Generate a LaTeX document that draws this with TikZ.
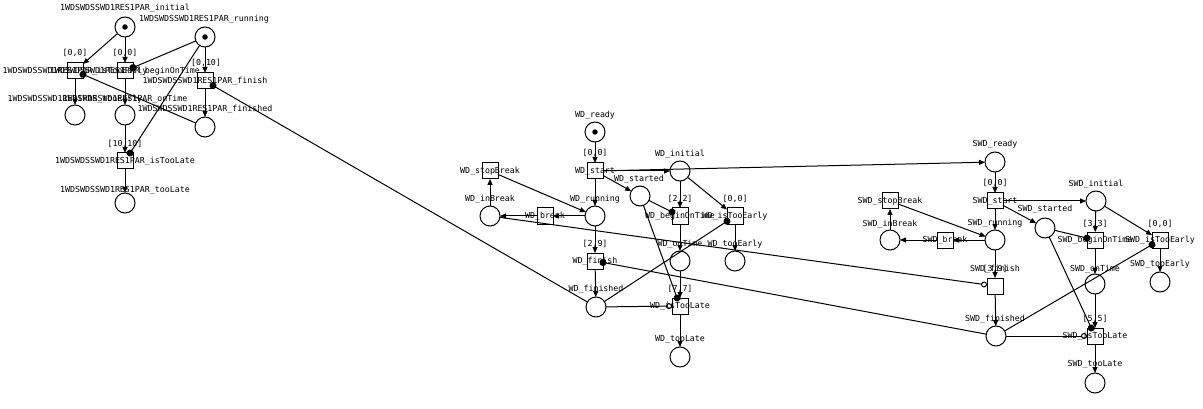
\documentclass[tikz,border=0pt]{standalone}
\usepackage{fontspec}
\setmonofont{DejaVu Sans Mono}
\usetikzlibrary{arrows.meta}
\begin{document}
\begin{tikzpicture}[x=1pt,y=-1pt,
  every node/.style={inner sep=0pt,outer sep=0pt},
  place/.style={circle,draw,minimum size=20pt,line width=1pt},
  trans/.style={rectangle,draw,minimum size=16pt,line width=1pt},
  lbl/.style={font=\ttfamily\fontsize{8.3}{9}\selectfont},
  tok/.style={circle,fill,minimum size=5.5pt},
  arc/.style={line width=1pt,-{Triangle[length=6pt,width=5pt]}},
  test/.style={line width=1pt,-{Circle[length=7pt]},shorten >=-3.5pt},
  inhib/.style={line width=1pt,-{Circle[open,length=6pt]}}]
\fill[white] (0,0) rectangle (1203,409);
\useasboundingbox (0,0) rectangle (1203,409);

% ---------- 1WDSWDSSWD1RES1PAR ----------
\node[place] (p1init) at (125,27) {};
\node[tok] (p1initT) at (p1init) {};
\node[place] (p1run) at (205,37) {};
\node[tok] (p1runT) at (p1run) {};
\node[trans] (t1early) at (75,71) {};
\node[trans] (t1begin) at (125,71) {};
\node[trans] (t1fin) at (205,81) {};
\node[place] (p1early) at (75,115) {};
\node[place] (p1ontime) at (125,115) {};
\node[place] (p1fin) at (205,127) {};
\node[trans] (t1late) at (125,161) {};
\node[place] (p1late) at (125,203) {};

% ---------- WD ----------
\node[place] (pwready) at (595,132) {};
\node[tok] (pwreadyT) at (pwready) {};
\node[trans] (twstart) at (595,171) {};
\node[place] (pwinit) at (680,171) {};
\node[place] (pwstarted) at (640,196) {};
\node[place] (pwrun) at (595,216) {};
\node[place] (pwinbreak) at (490,216) {};
\node[trans] (twstop) at (490,171) {};
\node[trans] (twbreak) at (545,216) {};
\node[trans] (twfin) at (595,261) {};
\node[trans] (twbegin) at (680,216) {};
\node[trans] (twearly) at (735,216) {};
\node[place] (pwontime) at (680,261) {};
\node[place] (pwtooearly) at (735,261) {};
\node[place] (pwfin) at (596,307) {};
\node[trans] (twlate) at (680,306) {};
\node[place] (pwlate) at (680,357) {};

% ---------- SWD ----------
\node[place] (psready) at (995,162) {};
\node[trans] (tsstart) at (995,201) {};
\node[place] (psinit) at (1096,201) {};
\node[place] (psstarted) at (1045,228) {};
\node[place] (psrun) at (995,240) {};
\node[place] (psinbreak) at (890,240) {};
\node[trans] (tsstop) at (890,201) {};
\node[trans] (tsbreak) at (945,240) {};
\node[trans] (tsfin) at (995,286) {};
\node[trans] (tsbegin) at (1095,240) {};
\node[trans] (tsearly) at (1160,240) {};
\node[place] (psontime) at (1095,284) {};
\node[place] (pstooearly) at (1160,282) {};
\node[place] (psfin) at (996,336) {};
\node[trans] (tslate) at (1095,336) {};
\node[place] (pslate) at (1095,383) {};

% ---------- labels ----------
\node[lbl] (l1) at (125,8) {1WDSWDSSWD1RES1PAR\_initial};
\node[lbl] (l2) at (204,19) {1WDSWDSSWD1RES1PAR\_running};
\node[lbl] (l3) at (75,53) {[0,0]};
\node[lbl] (l4) at (125,53) {[0,0]};
\node[lbl] (l5) at (206,63) {[0,10]};
\node[lbl] (l6) at (75,71) {1WDSWDSSWD1RES1PAR\_isTooEarly};
\node[lbl] (l7) at (125,71) {1WDSWDSSWD1RES1PAR\_beginOnTime};
\node[lbl] (l8) at (205,81) {1WDSWDSSWD1RES1PAR\_finish};
\node[lbl] (l9) at (75,99) {1WDSWDSSWD1RES1PAR\_tooEarly};
\node[lbl] (l10) at (125,99) {1WDSWDSSWD1RES1PAR\_onTime};
\node[lbl] (l11) at (205,109) {1WDSWDSSWD1RES1PAR\_finished};
\node[lbl] (l12) at (125,144) {[10,10]};
\node[lbl] (l13) at (125,161) {1WDSWDSSWD1RES1PAR\_isTooLate};
\node[lbl] (l14) at (125,190) {1WDSWDSSWD1RES1PAR\_tooLate};

\node[lbl] (m1) at (595,115) {WD\_ready};
\node[lbl] (m2) at (595,153) {[0,0]};
\node[lbl] (m3) at (595,171) {WD\_start};
\node[lbl] (m4) at (680,154) {WD\_initial};
\node[lbl] (m5) at (639,179) {WD\_started};
\node[lbl] (m6) at (595,199) {WD\_running};
\node[lbl] (m7) at (490,199) {WD\_inBreak};
\node[lbl] (m8) at (490,171) {WD\_stopBreak};
\node[lbl] (m9) at (545,216) {WD\_break};
\node[lbl] (m10) at (595,244) {[2,9]};
\node[lbl] (m11) at (595,261) {WD\_finish};
\node[lbl] (m12) at (680,199) {[2,2]};
\node[lbl] (m13) at (680,216) {WD\_beginOnTime};
\node[lbl] (m14) at (735,199) {[0,0]};
\node[lbl] (m15) at (735,216) {WD\_isTooEarly};
\node[lbl] (m16) at (680,244) {WD\_onTime};
\node[lbl] (m17) at (735,244) {WD\_tooEarly};
\node[lbl] (m18) at (596,289) {WD\_finished};
\node[lbl] (m19) at (680,289) {[7,7]};
\node[lbl] (m20) at (680,306) {WD\_isTooLate};
\node[lbl] (m21) at (680,339) {WD\_tooLate};

\node[lbl] (s1) at (995,144) {SWD\_ready};
\node[lbl] (s2) at (995,183) {[0,0]};
\node[lbl] (s3) at (995,201) {SWD\_start};
\node[lbl] (s4) at (1096,184) {SWD\_initial};
\node[lbl] (s5) at (1045,209) {SWD\_started};
\node[lbl] (s6) at (995,223) {SWD\_running};
\node[lbl] (s7) at (890,224) {SWD\_inBreak};
\node[lbl] (s8) at (890,201) {SWD\_stopBreak};
\node[lbl] (s9) at (945,240) {SWD\_break};
\node[lbl] (s10) at (995,269) {[3,9]};
\node[lbl] (s11) at (995,269) {SWD\_finish};
\node[lbl] (s12) at (1095,224) {[3,3]};
\node[lbl] (s13) at (1095,240) {SWD\_beginOnTime};
\node[lbl] (s14) at (1160,224) {[0,0]};
\node[lbl] (s15) at (1160,240) {SWD\_isTooEarly};
\node[lbl] (s16) at (1095,269) {SWD\_onTime};
\node[lbl] (s17) at (1160,264) {SWD\_tooEarly};
\node[lbl] (s18) at (995,319) {SWD\_finished};
\node[lbl] (s19) at (1095,319) {[5,5]};
\node[lbl] (s20) at (1095,336) {SWD\_isTooLate};
\node[lbl] (s21) at (1095,364) {SWD\_tooLate};

% ---------- arcs 1WD ----------
\draw[arc] (p1init) -- (t1early);
\draw[arc] (p1init) -- (t1begin);
\draw[arc] (t1early) -- (p1early);
\draw[arc] (t1begin) -- (p1ontime);
\draw[arc] (p1ontime) -- (t1late);
\draw[arc] (t1late) -- (p1late);
\draw[arc] (p1run) -- (t1fin);
\draw[arc] (t1fin) -- (p1fin);
\draw[test] (p1run) -- (t1begin);
\draw[test] (p1run) -- (t1late);
\draw[test] (p1fin) -- (t1early);
\draw[test] (pwfin) -- (t1fin);

% ---------- arcs WD ----------
\draw[arc] (pwready) -- (twstart);
\draw[arc] (twstart) -- (pwinit);
\draw[arc] (twstart) -- (psready);
\draw[arc] (twstart) -- (pwstarted);
\draw[arc] (twstart) -- (pwrun);
\draw[arc] (pwrun) -- (twfin);
\draw[arc] (twfin) -- (pwfin);
\draw[arc] (pwrun) -- (twbreak);
\draw[arc] (twbreak) -- (pwinbreak);
\draw[arc] (pwinbreak) -- (twstop);
\draw[arc] (twstop) -- (pwrun);
\draw[arc] (pwinit) -- (twbegin);
\draw[arc] (pwinit) -- (twearly);
\draw[test] (pwstarted) -- (twbegin);
\draw[test] (pwstarted) -- (twlate);
\draw[arc] (twbegin) -- (pwontime);
\draw[arc] (pwontime) -- (twlate);
\draw[arc] (twearly) -- (pwtooearly);
\draw[arc] (twlate) -- (pwlate);
\draw[test] (pwfin) -- (twearly);
\draw[inhib] (pwfin) -- (twlate);
\draw[test] (psfin) -- (twfin);
\draw[inhib] (pwinbreak) -- (tsfin);

% ---------- arcs SWD ----------
\draw[arc] (psready) -- (tsstart);
\draw[arc] (tsstart) -- (psinit);
\draw[arc] (tsstart) -- (psstarted);
\draw[arc] (tsstart) -- (psrun);
\draw[arc] (psrun) -- (tsfin);
\draw[arc] (tsfin) -- (psfin);
\draw[arc] (psrun) -- (tsbreak);
\draw[arc] (tsbreak) -- (psinbreak);
\draw[arc] (psinbreak) -- (tsstop);
\draw[arc] (tsstop) -- (psrun);
\draw[arc] (psinit) -- (tsbegin);
\draw[arc] (psinit) -- (tsearly);
\draw[test] (psstarted) -- (tsbegin);
\draw[test] (psstarted) -- (tslate);
\draw[arc] (tsbegin) -- (psontime);
\draw[arc] (psontime) -- (tslate);
\draw[arc] (tsearly) -- (pstooearly);
\draw[arc] (tslate) -- (pslate);
\draw[test] (psfin) -- (tsearly);
\draw[inhib] (psfin) -- (tslate);
\end{tikzpicture}
\end{document}
